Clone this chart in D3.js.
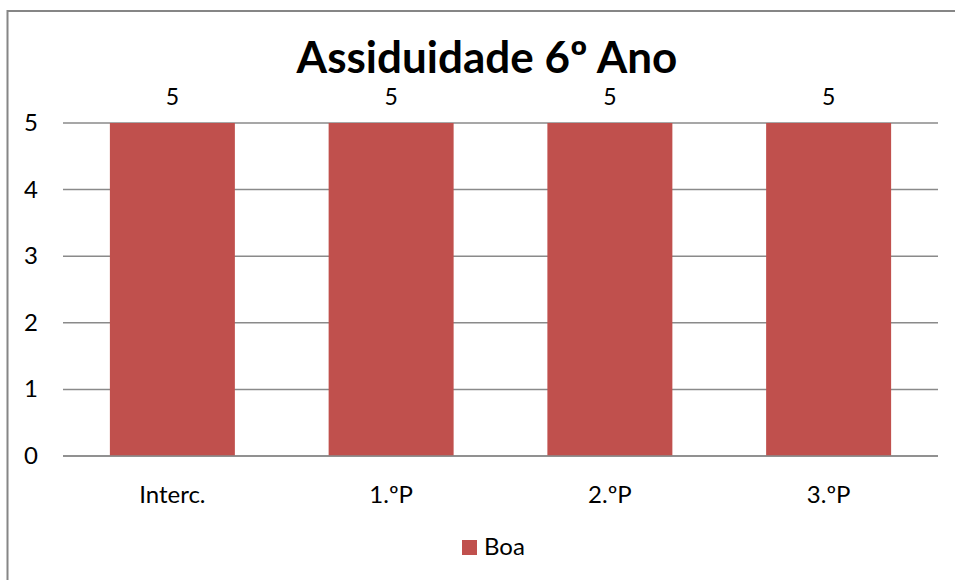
<!DOCTYPE html>
<html>
<head>
<meta charset="utf-8">
<script src="https://cdn.jsdelivr.net/npm/d3@7"></script>
<style>
  body { margin: 0; background: #fff; overflow: hidden; }
  svg { display: block; }
  text { font-family: Lato, "Open Sans", sans-serif; fill: #000; }
</style>
</head>
<body>
<script>
const categories = ["Interc.", "1.ºP", "2.ºP", "3.ºP"];
const values = [5, 5, 5, 5];
const yTicks = [0, 1, 2, 3, 4, 5];
const seriesName = "Boa";
const title = "Assiduidade 6º Ano";

const width = 955;
const height = 580;
const plot = { left: 63, right: 938, top: 123, bottom: 456 };
const barColor = "#C0504D";
const gridColor = "#8a8a8a";
const labelSize = "24px";

const svg = d3.select("body")
    .append("svg")
    .attr("width", width)
    .attr("height", height);

// chart frame, only top and left edges are inside the picture
svg.append("path")
    .attr("d", `M7.5,${height} V11 H${width}`)
    .attr("fill", "none")
    .attr("stroke", "#868686")
    .attr("stroke-width", 2);

const x = d3.scaleBand()
    .domain(categories)
    .range([plot.left, plot.right])
    .paddingInner(0.4286)
    .paddingOuter(0.2143);

const y = d3.scaleLinear()
    .domain([0, 5])
    .range([plot.bottom, plot.top]);

// gridlines
svg.append("g")
    .selectAll("line")
    .data(yTicks)
    .enter()
    .append("line")
    .attr("x1", plot.left)
    .attr("x2", plot.right)
    .attr("y1", d => y(d))
    .attr("y2", d => y(d))
    .attr("stroke", gridColor)
    .attr("stroke-width", 1.5);

// y labels
svg.append("g")
    .selectAll("text")
    .data(yTicks)
    .enter()
    .append("text")
    .attr("x", 31)
    .attr("y", d => y(d) + 8)
    .attr("text-anchor", "middle")
    .style("font-size", labelSize)
    .text(d => d);

// bars
svg.append("g")
    .selectAll("rect")
    .data(values)
    .enter()
    .append("rect")
    .attr("x", (d, i) => x(categories[i]))
    .attr("y", d => y(d))
    .attr("width", x.bandwidth())
    .attr("height", d => y(0) - y(d))
    .attr("fill", barColor);

// baseline drawn over the bars
svg.append("line")
    .attr("x1", plot.left)
    .attr("x2", plot.right)
    .attr("y1", y(0))
    .attr("y2", y(0))
    .attr("stroke", gridColor)
    .attr("stroke-width", 1.5);

// data labels
svg.append("g")
    .selectAll("text")
    .data(values)
    .enter()
    .append("text")
    .attr("x", (d, i) => x(categories[i]) + x.bandwidth() / 2)
    .attr("y", d => y(d) - 18)
    .attr("text-anchor", "middle")
    .style("font-size", "23px")
    .text(d => d);

// category labels
svg.append("g")
    .selectAll("text")
    .data(categories)
    .enter()
    .append("text")
    .attr("x", d => x(d) + x.bandwidth() / 2)
    .attr("y", 503)
    .attr("text-anchor", "middle")
    .style("font-size", labelSize)
    .text(d => d);

// title
svg.append("text")
    .attr("x", 487)
    .attr("y", 73)
    .attr("text-anchor", "middle")
    .style("font-size", "44px")
    .style("font-weight", "bold")
    .text(title);

// legend
const legend = svg.append("g")
    .attr("transform", "translate(462,540)");
legend.append("rect")
    .attr("width", 15)
    .attr("height", 15)
    .attr("fill", barColor);
legend.append("text")
    .attr("x", 22)
    .attr("y", 15)
    .style("font-size", labelSize)
    .text(seriesName);
</script>
</body>
</html>
